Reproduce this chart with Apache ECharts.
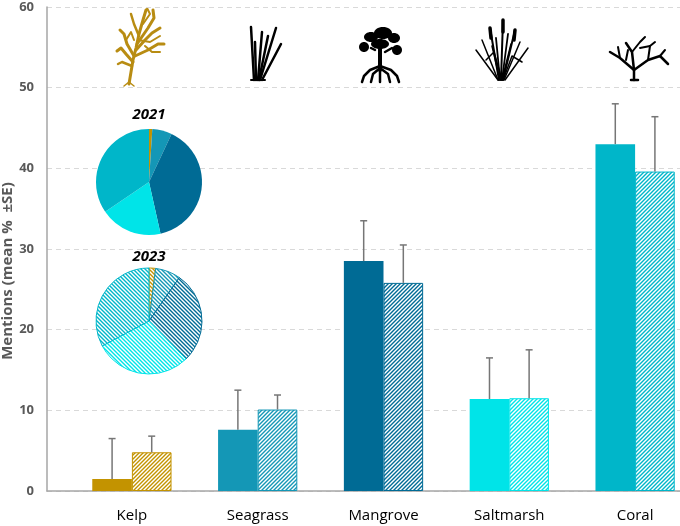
<!DOCTYPE html>
<html>
<head>
<meta charset="utf-8">
<script src="https://cdn.jsdelivr.net/npm/echarts@6/dist/echarts.min.js"></script>
<style>
  html, body { margin: 0; padding: 0; background: #fff; }
  #chart { width: 680px; height: 526px; }
</style>
</head>
<body>
<div id="chart"></div>
<script>
(function () {
    var categories = ['Kelp', 'Seagrass', 'Mangrove', 'Saltmarsh', 'Coral'];
    var mean2021 = [1.5, 7.6, 28.5, 11.4, 43.0];
    var se2021 = [5.0, 4.9, 5.0, 5.1, 5.0];
    var mean2023 = [4.8, 10.1, 25.8, 11.5, 39.6];
    var se2023 = [2.0, 1.8, 4.7, 6.0, 6.8];
    var pie2021 = [1, 6, 39.5, 19, 34.5];
    var pie2023 = [2, 7.7, 28, 29.5, 32.8];
    var yTicks = [0, 10, 20, 30, 40, 50, 60];

    var colors = ['#c39300', '#1497b6', '#006b95', '#00e4e8', '#00b6c9'];
    var font = '"Open Sans", Lato, sans-serif';

    // diagonal stripes, dir 1 = "///", dir -1 = "\\\"
    function hatch(color, dir) {
        var s = 4;
        var c = document.createElement('canvas');
        c.width = s; c.height = s;
        var g = c.getContext('2d');
        g.fillStyle = '#fff';
        g.fillRect(0, 0, s, s);
        g.strokeStyle = color;
        g.lineWidth = 1.4;
        g.beginPath();
        if (dir > 0) {
            g.moveTo(0, s); g.lineTo(s, 0);
            g.moveTo(-1, 1); g.lineTo(1, -1);
            g.moveTo(s - 1, s + 1); g.lineTo(s + 1, s - 1);
        } else {
            g.moveTo(0, 0); g.lineTo(s, s);
            g.moveTo(s - 1, -1); g.lineTo(s + 1, 1);
            g.moveTo(-1, s - 1); g.lineTo(1, s + 1);
        }
        g.stroke();
        return { image: c, repeat: 'repeat' };
    }

    function errorSeries(means, ses, sign) {
        return {
            type: 'custom',
            xAxisIndex: 1,
            yAxisIndex: 1,
            z: 10,
            silent: true,
            encode: { x: 0, y: 1 },
            data: categories.map(function (c, i) { return [i, means[i], ses[i]]; }),
            renderItem: function (params, api) {
                var idx = api.value(0), m = api.value(1), e = api.value(2);
                var band = api.size([1, 0])[0];
                var bw = band * 0.63 / 2;
                var p0 = api.coord([idx, m]);
                var p1 = api.coord([idx, m + e]);
                var x = p0[0] + sign * bw / 2;
                var st = { stroke: '#767676', lineWidth: 1.5 };
                return {
                    type: 'group',
                    children: [
                        { type: 'line', shape: { x1: x, y1: p0[1], x2: x, y2: p1[1] }, style: st },
                        { type: 'line', shape: { x1: x - 3.5, y1: p1[1], x2: x + 3.5, y2: p1[1] }, style: st }
                    ]
                };
            }
        };
    }

    // little habitat silhouettes along the top
    function stroke(points, color, w) {
        return { type: 'polyline', silent: true, shape: { points: points },
                 style: { stroke: color, lineWidth: w, fill: null, lineCap: 'round', lineJoin: 'round' } };
    }
    function blob(cx, cy, rx, ry) {
        return { type: 'ellipse', silent: true, shape: { cx: cx, cy: cy, rx: rx, ry: ry }, style: { fill: '#000' } };
    }
    var gold = '#b88c12';
    var icons = [
        // kelp
        stroke([[129, 84], [131, 72], [133, 60], [136, 48], [139, 34], [143, 20], [146, 10]], gold, 3),
        stroke([[133, 62], [126, 54], [121, 48], [117, 51]], gold, 3),
        stroke([[134, 56], [127, 44], [124, 34], [120, 30]], gold, 3),
        stroke([[136, 50], [145, 40], [152, 33], [160, 28]], gold, 3),
        stroke([[137, 44], [148, 28], [154, 18], [153, 10]], gold, 3),
        stroke([[139, 36], [134, 24], [131, 14]], gold, 2.5),
        stroke([[135, 56], [148, 50], [158, 44], [164, 44]], gold, 3),
        stroke([[132, 66], [122, 62], [118, 64]], gold, 2.5),
        stroke([[138, 40], [150, 42], [160, 36]], gold, 2),
        stroke([[126, 40], [131, 32], [134, 40]], gold, 2),
        stroke([[143, 24], [150, 14], [147, 8]], gold, 2),
        stroke([[145, 46], [152, 52], [160, 52]], gold, 2),
        stroke([[124, 86], [129, 82], [134, 86]], gold, 1.5),
        // seagrass
        stroke([[251, 80], [265, 80]], '#000', 2),
        stroke([[254, 80], [251, 27]], '#000', 2.5),
        stroke([[256, 80], [255, 42]], '#000', 2.5),
        stroke([[258, 80], [262, 32]], '#000', 2.5),
        stroke([[259, 80], [268, 36]], '#000', 2.5),
        stroke([[260, 80], [276, 28]], '#000', 2.5),
        stroke([[262, 80], [281, 44]], '#000', 2.5),
        // mangrove
        blob(371, 37, 7, 5),
        blob(383, 33, 9, 6),
        blob(394, 38, 6, 5),
        blob(364, 47, 5, 5),
        blob(397, 50, 5, 5),
        blob(380, 44, 9, 5),
        stroke([[380, 46], [380, 70]], '#000', 4),
        stroke([[375, 50], [371, 48]], '#000', 2.5),
        stroke([[385, 52], [392, 48]], '#000', 2.5),
        stroke([[380, 66], [370, 70], [364, 76], [362, 82]], '#000', 2.5),
        stroke([[380, 68], [373, 74], [371, 82]], '#000', 2.5),
        stroke([[380, 68], [380, 82]], '#000', 2.5),
        stroke([[380, 68], [388, 74], [390, 82]], '#000', 2.5),
        stroke([[380, 66], [391, 70], [397, 76], [399, 82]], '#000', 2.5),
        // saltmarsh
        stroke([[498, 80], [476, 50]], '#000', 1.5),
        stroke([[498, 80], [482, 40]], '#000', 1.5),
        stroke([[499, 80], [490, 28]], '#000', 2),
        stroke([[500, 80], [496, 38]], '#000', 1.8),
        stroke([[501, 80], [503, 20]], '#000', 2),
        stroke([[502, 80], [508, 34]], '#000', 1.8),
        stroke([[503, 80], [515, 30]], '#000', 2),
        stroke([[504, 80], [520, 42]], '#000', 1.5),
        stroke([[505, 80], [528, 48]], '#000', 1.5),
        stroke([[502, 80], [494, 52], [486, 60]], '#000', 1.5),
        stroke([[503, 80], [512, 56], [522, 62]], '#000', 1.5),
        stroke([[500, 80], [492, 46]], '#000', 1.5),
        stroke([[502, 80], [511, 44]], '#000', 1.5),
        stroke([[490, 28], [491, 38]], '#000', 3.5),
        stroke([[503, 20], [503, 32]], '#000', 3.5),
        stroke([[515, 30], [514, 40]], '#000', 3.5),
        // coral
        stroke([[631, 80], [638, 80]], '#000', 2.5),
        stroke([[634, 80], [634, 70], [620, 58], [610, 52]], '#000', 2.5),
        stroke([[620, 58], [618, 47]], '#000', 2),
        stroke([[634, 70], [632, 52], [626, 43]], '#000', 2.5),
        stroke([[632, 52], [640, 42], [645, 37]], '#000', 2),
        stroke([[634, 70], [648, 60], [660, 56], [668, 64]], '#000', 2.5),
        stroke([[648, 60], [650, 46], [655, 42]], '#000', 2),
        stroke([[660, 56], [665, 50]], '#000', 2),
        stroke([[626, 60], [628, 50]], '#000', 2),
        stroke([[640, 48], [650, 46]], '#000', 1.8)
    ];

    var titleStyle = { fontFamily: font, fontSize: 15, fontWeight: 'bold', fontStyle: 'italic',
                       fill: '#000', textAlign: 'center', textVerticalAlign: 'middle' };

    var myChart = echarts.init(document.getElementById('chart'));
    var option = {
        animation: false,
        grid: [
            { left: 47, right: 0, top: 7, bottom: 35, outerBoundsMode: 'none' },
            { left: 69, width: 629, top: 7, bottom: 35, outerBoundsMode: 'none' }
        ],
        xAxis: [
            {
                gridIndex: 0, type: 'category', data: [''],
                axisLine: { lineStyle: { color: '#a6a6a6', width: 1.5 } },
                axisTick: { show: false }, axisLabel: { show: false }
            },
            {
                gridIndex: 1, type: 'category', data: categories,
                axisLine: { show: false }, axisTick: { show: false },
                axisLabel: { color: '#000', fontSize: 15, fontFamily: font, margin: 17 }
            }
        ],
        yAxis: [
            {
                gridIndex: 0, type: 'value', min: yTicks[0], max: yTicks[yTicks.length - 1], interval: 10,
                axisLine: { show: true, lineStyle: { color: '#a6a6a6', width: 1.5 } },
                axisTick: { show: false },
                axisLabel: { color: '#595959', fontSize: 13, fontWeight: 'bold', fontFamily: font, margin: 13 },
                splitLine: { lineStyle: { color: '#d9d9d9', type: [5, 4] } }
            },
            {
                gridIndex: 1, type: 'value', min: yTicks[0], max: yTicks[yTicks.length - 1], interval: 10,
                show: false, splitLine: { show: false }
            }
        ],
        graphic: icons.concat([
            { type: 'text', x: 149, y: 115, z: 20, style: Object.assign({ text: '2021' }, titleStyle) },
            { type: 'text', x: 149, y: 257, z: 20, style: Object.assign({ text: '2023' }, titleStyle) },
            { type: 'text', x: 8, y: 271, rotation: Math.PI / 2, z: 20,
              style: { text: 'Mentions (mean %  \u00B1SE)', fontFamily: font, fontSize: 15, fontWeight: 'bold',
                       fill: '#595959', textAlign: 'center', textVerticalAlign: 'middle' } }
        ]),
        series: [
            {
                name: '2021', type: 'bar', xAxisIndex: 1, yAxisIndex: 1,
                barGap: 0, barCategoryGap: '37%',
                data: mean2021.map(function (v, i) {
                    return { value: v, itemStyle: { color: colors[i] } };
                })
            },
            {
                name: '2023', type: 'bar', xAxisIndex: 1, yAxisIndex: 1,
                barGap: 0, barCategoryGap: '37%',
                data: mean2023.map(function (v, i) {
                    return { value: v, itemStyle: { color: hatch(colors[i], 1), borderColor: colors[i], borderWidth: 1 } };
                })
            },
            errorSeries(mean2021, se2021, -1),
            errorSeries(mean2023, se2023, 1),
            {
                type: 'pie', silent: true, center: [149, 182], radius: 53, z: 5,
                label: { show: false }, labelLine: { show: false },
                data: pie2021.map(function (v, i) {
                    return { name: categories[i], value: v, itemStyle: { color: colors[i] } };
                })
            },
            {
                type: 'pie', silent: true, center: [149, 321], radius: 53, z: 5,
                label: { show: false }, labelLine: { show: false },
                data: pie2023.map(function (v, i) {
                    return { name: categories[i], value: v,
                             itemStyle: { color: hatch(colors[i], -1), borderColor: colors[i], borderWidth: 1 } };
                })
            }
        ]
    };
    myChart.setOption(option);
    window.addEventListener('resize', function () {
        myChart.resize();
    });
})();
</script>
</body>
</html>
